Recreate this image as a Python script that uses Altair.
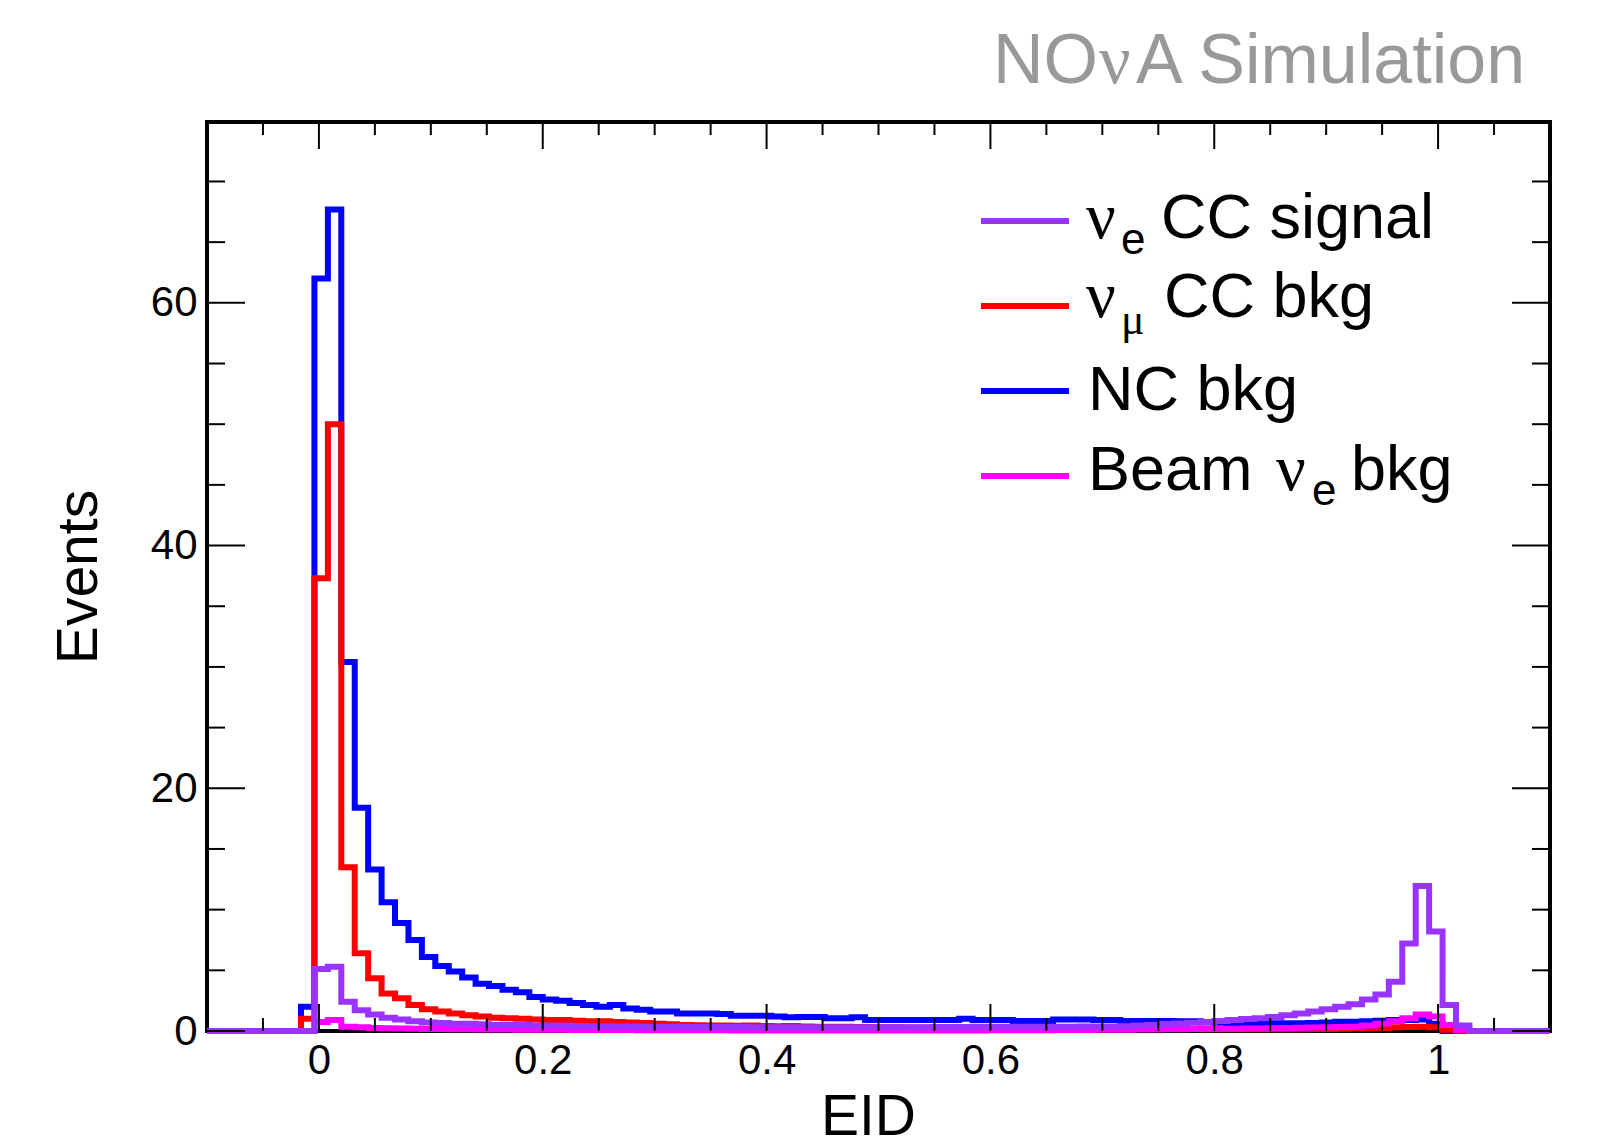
import altair as alt
import pandas as pd
import numpy as np

# ---------------- data (events per EID bin, 100 bins from -0.1 to 1.1) ----------------
X_MIN, X_MAX = -0.1, 1.1
N_BINS = 100
Y_MAX = 74.9

nc_bkg = [0, 0, 0, 0, 0, 0, 0, 2.0, 62.0, 67.7, 30.4, 18.4, 13.3, 10.6, 8.9, 7.5, 6.1, 5.35, 4.9, 4.4,
          3.9, 3.7, 3.4, 3.2, 2.8, 2.6, 2.5, 2.3, 2.15, 2.0,
          2.15, 1.85, 1.75, 1.6, 1.6, 1.45, 1.45, 1.45, 1.4, 1.25,
          1.25, 1.25, 1.2, 1.13, 1.15, 1.15, 1.05, 1.05, 1.13, 0.9,
          0.9, 0.9, 0.9, 0.9, 0.9, 0.9, 1.0, 0.9, 0.9, 0.9,
          0.83, 0.83, 0.83, 0.95, 0.95, 0.95, 0.9, 0.9, 0.82, 0.82,
          0.82, 0.82, 0.8, 0.8, 0.7, 0.68, 0.66, 0.65, 0.63, 0.63,
          0.63, 0.63, 0.65, 0.7, 0.77, 0.77, 0.8, 0.85, 0.9, 0.9,
          0.95, 0.6, 0, 0, 0, 0, 0, 0, 0, 0]

numu_cc_bkg = [0, 0, 0, 0, 0, 0, 0, 1.0, 37.3, 50.0, 13.5, 6.4, 4.35, 3.1, 2.7, 2.15, 1.8, 1.6, 1.45, 1.3,
               1.2, 1.1, 1.05, 1.0, 0.95, 0.9, 0.9, 0.85, 0.8, 0.8,
               0.75, 0.7, 0.65, 0.6, 0.55, 0.5, 0.48, 0.46, 0.45, 0.44,
               0.45, 0.42, 0.4, 0.42, 0.38, 0.36, 0.35, 0.34, 0.33, 0.32,
               0.3, 0.3, 0.28, 0.28, 0.27, 0.26, 0.25, 0.25, 0.24, 0.24,
               0.23, 0.22, 0.22, 0.21, 0.2, 0.2, 0.2, 0.19, 0.18, 0.18,
               0.17, 0.17, 0.16, 0.16, 0.15, 0.15, 0.15, 0.15, 0.15, 0.15,
               0.15, 0.15, 0.16, 0.17, 0.18, 0.2, 0.22, 0.25, 0.3, 0.33,
               0.35, 0.3, 0.1, 0, 0, 0, 0, 0, 0, 0]

nue_cc_signal = [0, 0, 0, 0, 0, 0, 0, 0, 5.1, 5.3, 2.4, 1.7, 1.35, 1.1, 0.95, 0.8, 0.7, 0.65, 0.6, 0.6,
                 0.55, 0.5, 0.5, 0.5, 0.45, 0.45, 0.45, 0.4, 0.4, 0.4,
                 0.38, 0.37, 0.36, 0.35, 0.35, 0.34, 0.33, 0.33, 0.32, 0.32,
                 0.31, 0.31, 0.3, 0.3, 0.3, 0.3, 0.3, 0.3, 0.3, 0.3,
                 0.3, 0.3, 0.3, 0.3, 0.32, 0.33, 0.33, 0.34, 0.34, 0.35,
                 0.35, 0.35, 0.35, 0.36, 0.36, 0.37, 0.37, 0.38, 0.4, 0.45,
                 0.5, 0.58, 0.62, 0.68, 0.75, 0.82, 0.9, 0.98, 1.05, 1.15,
                 1.3, 1.45, 1.6, 1.8, 2.0, 2.2, 2.6, 3.0, 4.05, 7.2,
                 11.95, 8.2, 2.15, 0.45, 0, 0, 0, 0, 0, 0]

beam_nue_bkg = [0, 0, 0, 0, 0, 0, 0, 0, 0.75, 0.9, 0.35, 0.3, 0.25, 0.22, 0.2, 0.18, 0.17, 0.16, 0.15, 0.14,
                0.13, 0.12, 0.12, 0.11, 0.1, 0.1, 0.1, 0.09, 0.09, 0.08,
                0.08, 0.08, 0.07, 0.07, 0.07, 0.06, 0.06, 0.06, 0.06, 0.05,
                0.05, 0.05, 0.05, 0.05, 0.05, 0.05, 0.05, 0.05, 0.05, 0.05,
                0.05, 0.05, 0.05, 0.05, 0.05, 0.05, 0.05, 0.05, 0.06, 0.06,
                0.06, 0.07, 0.07, 0.08, 0.08, 0.09, 0.1, 0.1, 0.11, 0.12,
                0.13, 0.14, 0.15, 0.16, 0.17, 0.18, 0.19, 0.2, 0.21, 0.23,
                0.25, 0.27, 0.28, 0.3, 0.32, 0.35, 0.45, 0.6, 0.8, 1.05,
                1.35, 1.2, 0.5, 0.1, 0, 0, 0, 0, 0, 0]

x_major_ticks = [0, 0.2, 0.4, 0.6, 0.8, 1.0]
x_minor_ticks = [-0.05, 0.05, 0.1, 0.15, 0.25, 0.3, 0.35, 0.45, 0.5, 0.55,
                 0.65, 0.7, 0.75, 0.85, 0.9, 0.95, 1.05]
y_major_ticks = [0, 20, 40, 60]
y_minor_ticks = [5, 10, 15, 25, 30, 35, 45, 50, 55, 65, 70]

C_SIG = "#9933ff"
C_NUMU = "#ff0000"
C_NC = "#0000ff"
C_BEAM = "#ff00ff"

# ---------------- layout ----------------
W, H = 1343, 909
FONT = "Liberation Sans"
SERIF = "Liberation Serif"
LW = 6

edges = np.linspace(X_MIN, X_MAX, N_BINS + 1)


def steps(vals):
    xs, ys = [], []
    for k, v in enumerate(vals):
        xs += [edges[k], edges[k + 1]]
        ys += [v, v]
    return pd.DataFrame({"x": xs, "y": ys, "i": np.arange(len(xs))})


xscale = alt.Scale(domain=[X_MIN, X_MAX], nice=False, zero=False)
yscale = alt.Scale(domain=[0, Y_MAX], nice=False, zero=False)

x_axis = alt.Axis(values=x_major_ticks, format="~g", title="EID", labelPadding=9,
                  ticks=False, tickSize=0, domain=False, grid=False,
                  labelFlush=False, labelOverlap=False,
                  titleX=661, titleY=103, titleBaseline="alphabetic", titleAlign="center")
y_axis = alt.Axis(values=y_major_ticks, title="Events", labelPadding=10,
                  ticks=False, tickSize=0, domain=False, grid=False,
                  labelFlush=False, labelOverlap=False,
                  titleAngle=270, titleX=-111, titleY=H / 2,
                  titleBaseline="alphabetic", titleAlign="center")


def hist_layer(vals, color):
    return alt.Chart(steps(vals)).mark_line(
        color=color, strokeWidth=LW, strokeJoin="miter", strokeCap="butt", clip=False
    ).encode(
        x=alt.X("x:Q", scale=xscale, axis=x_axis, title="EID"),
        y=alt.Y("y:Q", scale=yscale, axis=y_axis, title="Events"),
        order=alt.Order("i:Q"),
    )


def xtick_layers(vals, length):
    df = pd.DataFrame({"v": vals})
    base = alt.Chart(df).mark_rule(color="black", strokeWidth=2)
    xenc = alt.X("v:Q", scale=xscale, axis=x_axis, title="EID")
    bottom = base.encode(x=xenc, y=alt.value(H), y2=alt.value(H - length))
    top = base.encode(x=xenc, y=alt.value(0), y2=alt.value(length))
    return [bottom, top]


def ytick_layers(vals, length):
    df = pd.DataFrame({"v": vals})
    base = alt.Chart(df).mark_rule(color="black", strokeWidth=2)
    yenc = alt.Y("v:Q", scale=yscale, axis=y_axis, title="Events")
    left = base.encode(y=yenc, x=alt.value(0), x2=alt.value(length))
    right = base.encode(y=yenc, x=alt.value(W), x2=alt.value(W - length))
    return [left, right]


one = pd.DataFrame({"a": [0]})


def txt(s, x, y, size, font=FONT, color="black", align="left"):
    return alt.Chart(one).mark_text(
        text=s, font=font, fontSize=size, align=align, baseline="alphabetic", color=color
    ).encode(x=alt.value(x), y=alt.value(y))


def lrule(x1, x2, y, color):
    return alt.Chart(one).mark_rule(color=color, strokeWidth=LW).encode(
        x=alt.value(x1), x2=alt.value(x2), y=alt.value(y))


layers = [
    hist_layer(nc_bkg, C_NC),
    hist_layer(numu_cc_bkg, C_NUMU),
    hist_layer(beam_nue_bkg, C_BEAM),
    hist_layer(nue_cc_signal, C_SIG),
]
layers += xtick_layers(x_major_ticks, 27) + xtick_layers(x_minor_ticks, 13)
layers += ytick_layers(y_major_ticks, 38) + ytick_layers(y_minor_ticks, 18)

# legend
LF = 63
layers += [
    lrule(774, 862, 99, C_SIG),
    lrule(774, 862, 184, C_NUMU),
    lrule(774, 862, 269, C_NC),
    lrule(774, 862, 354, C_BEAM),
    txt("ν", 879, 116, 66, font=SERIF),
    txt("e", 914, 132, 44),
    txt("CC signal", 954, 116, LF),
    txt("ν", 879, 195, 66, font=SERIF),
    txt("μ", 914, 212, 44, font=SERIF),
    txt("CC bkg", 957, 195, LF),
    txt("NC bkg", 881, 288, LF),
    txt("Beam", 881, 368, LF),
    txt("ν", 1069, 368, 66, font=SERIF),
    txt("e", 1105, 383, 44),
    txt("bkg", 1144, 368, LF),
]

# header
GRAY = "#999999"
layers += [
    txt("NO", 786, -39, 70, color=GRAY),
    txt("ν", 892, -39, 70, font=SERIF, color=GRAY),
    txt("A Simulation", 929, -39, 70, color=GRAY),
]

chart = alt.layer(*layers).properties(
    width=W, height=H,
    autosize=alt.AutoSizeParams(type="none"),
    padding={"left": 207, "top": 122, "right": 48, "bottom": 114},
    background="white",
).configure_view(
    stroke="black", strokeWidth=4
).configure_axis(
    labelFont=FONT, labelFontSize=42, labelColor="black",
    titleFont=FONT, titleFontSize=57, titleFontWeight="normal", titleColor="black",
)

chart.save("out.html", embed_options={"renderer": "svg", "actions": False})
